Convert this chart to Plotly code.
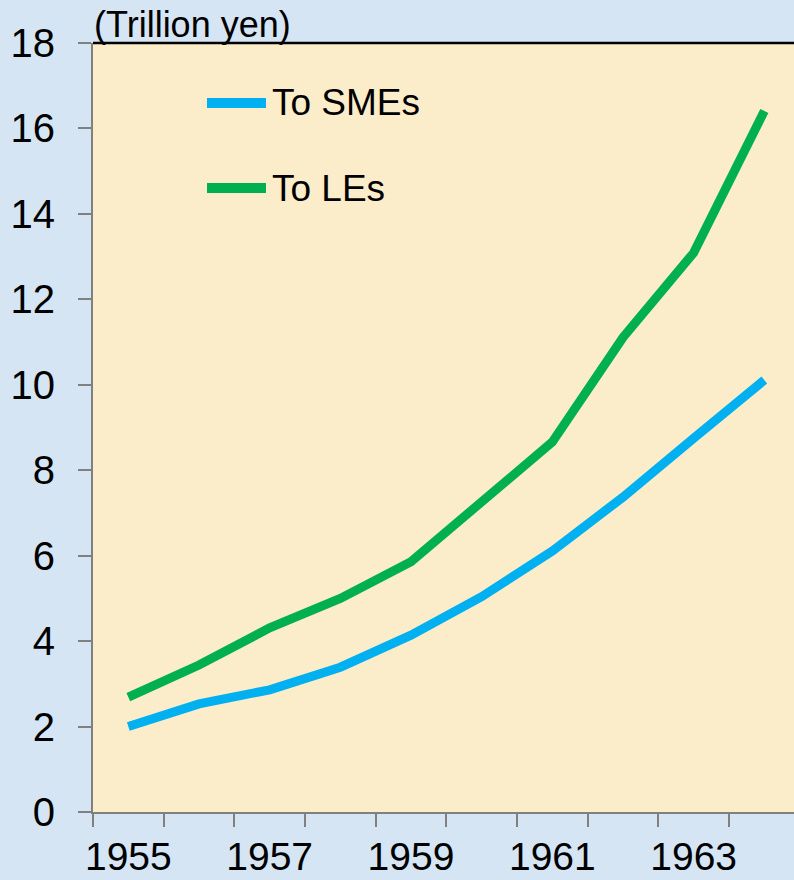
import plotly.graph_objects as go

years = [1955, 1956, 1957, 1958, 1959, 1960, 1961, 1962, 1963, 1964]
to_smes = [2.0, 2.53, 2.86, 3.39, 4.14, 5.04, 6.11, 7.37, 8.75, 10.11]
to_les = [2.69, 3.44, 4.31, 5.0, 5.86, 7.26, 8.66, 11.11, 13.09, 16.41]
series_names = ["To SMEs", "To LEs"]
series_colors = ["#00B0F0", "#00B050"]
x_tick_labels = [1955, 1957, 1959, 1961, 1963]
y_ticks = list(range(0, 19, 2))

FONT = "Liberation Sans, Arial, sans-serif"

fig = go.Figure()
for name, vals, col in zip(series_names, [to_smes, to_les], series_colors):
    fig.add_trace(go.Scatter(x=years, y=vals, mode="lines", name=name,
                             line=dict(color=col, width=9), showlegend=False,
                             hoverinfo="skip"))

# custom legend (long line samples like the original)
leg_y = [0.922, 0.8114]
for name, col, yy in zip(series_names, series_colors, leg_y):
    fig.add_shape(type="line", xref="paper", yref="paper",
                  x0=0.1626, x1=0.2468, y0=yy, y1=yy,
                  line=dict(color=col, width=10))
    fig.add_annotation(xref="paper", yref="paper", x=0.252, y=yy,
                       text=name, showarrow=False, xanchor="left", yanchor="middle",
                       font=dict(family=FONT, size=37, color="#000000"))

# top border of plot area
fig.add_shape(type="line", xref="paper", yref="paper", x0=0, x1=1, y0=1, y1=1,
              line=dict(color="#000000", width=2.5))

fig.add_annotation(xref="paper", yref="paper", x=0.0, y=1.0, xshift=-1, yshift=-4,
                   text="(Trillion yen)", showarrow=False, xanchor="left", yanchor="bottom",
                   font=dict(family=FONT, size=36, color="#000000"))

fig.update_layout(
    width=794, height=880,
    margin=dict(l=93, r=0, t=43, b=68, autoexpand=False),
    paper_bgcolor="#D5E5F4",
    plot_bgcolor="#FBEDC9",
    showlegend=False,
    font=dict(family=FONT, color="#000000"),
)
fig.update_xaxes(
    range=[1954.5, 1964.42], tickmode="array", tickvals=x_tick_labels,
    ticktext=[str(v) for v in x_tick_labels], ticks="", ticklen=0,
    ticklabelstandoff=9, automargin=False,
    tickfont=dict(family=FONT, size=39, color="#000000"),
    showgrid=False, zeroline=False, showline=True, linecolor="#808080", linewidth=2,
    minor=dict(tickmode="linear", tick0=1954.5, dtick=1, ticks="outside", ticklen=13,
               tickcolor="#808080", tickwidth=2, showgrid=False),
)
fig.update_yaxes(
    range=[0, 18], tickmode="array", tickvals=y_ticks,
    ticks="outside", ticklen=13, tickcolor="#808080", tickwidth=2,
    ticklabelstandoff=15, automargin=False,
    tickfont=dict(family=FONT, size=40, color="#000000"),
    showgrid=False, zeroline=False, showline=True, linecolor="#808080", linewidth=2,
)

fig.write_html("out.html", config={"displayModeBar": False, "staticPlot": True},
               post_script="document.body.style.margin='0';document.body.style.overflow='hidden';")
